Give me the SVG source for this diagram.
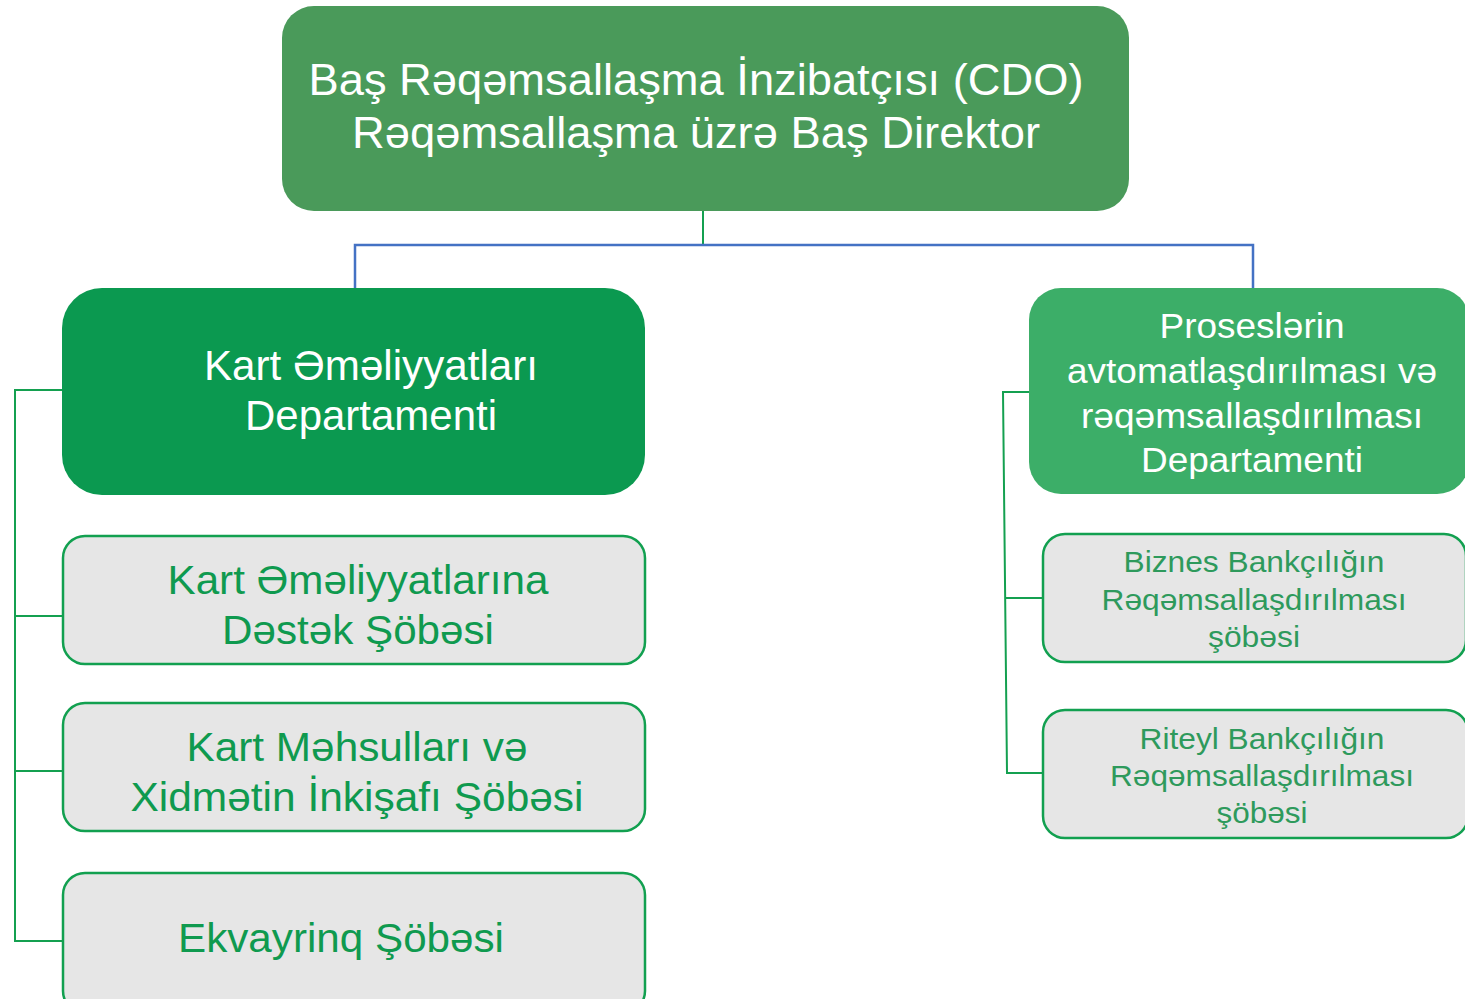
<svg xmlns="http://www.w3.org/2000/svg" width="1465" height="999" viewBox="0 0 1465 999">
<style>
text{font-family:"Liberation Sans",Arial,sans-serif;text-anchor:middle}
.w{fill:#ffffff}
.g{fill:#0f9a4f}
.g2{fill:#2e9a5c}
.sub{fill:#e6e6e6;stroke:#12a050;stroke-width:2.5}
.cg{stroke:#14a050;stroke-width:2;fill:none}
.cb{stroke:#4472c4;stroke-width:2.5;fill:none}
</style>
<rect width="1465" height="999" fill="#ffffff"/>
<g id="connectors">
<line class="cg" x1="703" y1="211" x2="703" y2="245" stroke-width="1.2"/>
<polyline class="cb" points="355,288 355,245 1253,245 1253,288"/>
<polyline class="cg" points="62,390 15,390 15,941 62,941" stroke-width="1.5"/>
<line class="cg" x1="15" y1="616" x2="62" y2="616" stroke-width="1.5"/>
<line class="cg" x1="15" y1="771" x2="62" y2="771" stroke-width="1.5"/>
<polyline class="cg" points="1029,392 1003,392 1007,773 1043,773" stroke-width="2.5"/>
<line class="cg" x1="1005" y1="598" x2="1043" y2="598" stroke-width="2.5"/>
</g>
<g id="cdo">
<rect x="282" y="6" width="847" height="205" rx="32" fill="#4a9a5a"/>
<text class="w" x="696" y="95" font-size="44" textLength="775" lengthAdjust="spacingAndGlyphs">Baş Rəqəmsallaşma İnzibatçısı (CDO)</text>
<text class="w" x="696" y="148" font-size="44" textLength="688" lengthAdjust="spacingAndGlyphs">Rəqəmsallaşma üzrə Baş Direktor</text>
</g>
<g id="kart-dept">
<rect x="62" y="288" width="583" height="207" rx="40" fill="#0b9950"/>
<text class="w" x="371" y="380" font-size="42" textLength="334" lengthAdjust="spacingAndGlyphs">Kart Əməliyyatları</text>
<text class="w" x="371" y="430" font-size="42" textLength="252" lengthAdjust="spacingAndGlyphs">Departamenti</text>
</g>
<g id="destek">
<rect class="sub" x="63" y="536" width="582" height="128" rx="22"/>
<text class="g" x="358" y="594" font-size="40" textLength="381" lengthAdjust="spacingAndGlyphs">Kart Əməliyyatlarına</text>
<text class="g" x="358" y="644" font-size="40" textLength="272" lengthAdjust="spacingAndGlyphs">Dəstək Şöbəsi</text>
</g>
<g id="mehsul">
<rect class="sub" x="63" y="703" width="582" height="128" rx="22"/>
<text class="g" x="357" y="761" font-size="40" textLength="341" lengthAdjust="spacingAndGlyphs">Kart Məhsulları və</text>
<text class="g" x="357" y="811" font-size="40" textLength="453" lengthAdjust="spacingAndGlyphs">Xidmətin İnkişafı Şöbəsi</text>
</g>
<g id="ekvayrinq">
<rect class="sub" x="63" y="873" width="582" height="140" rx="22"/>
<text class="g" x="341" y="952" font-size="40" textLength="326" lengthAdjust="spacingAndGlyphs">Ekvayrinq Şöbəsi</text>
</g>
<g id="proses-dept">
<rect x="1029" y="288" width="440" height="206" rx="32" fill="#3cae68"/>
<text class="w" x="1252" y="338" font-size="35" textLength="185" lengthAdjust="spacingAndGlyphs">Proseslərin</text>
<text class="w" x="1252" y="383" font-size="35" textLength="370" lengthAdjust="spacingAndGlyphs">avtomatlaşdırılması və</text>
<text class="w" x="1252" y="428" font-size="35" textLength="342" lengthAdjust="spacingAndGlyphs">rəqəmsallaşdırılması</text>
<text class="w" x="1252" y="472" font-size="35" textLength="222" lengthAdjust="spacingAndGlyphs">Departamenti</text>
</g>
<g id="biznes">
<rect class="sub" x="1043" y="534" width="423" height="128" rx="22"/>
<text class="g2" x="1254" y="572" font-size="30" textLength="261" lengthAdjust="spacingAndGlyphs">Biznes Bankçılığın</text>
<text class="g2" x="1254" y="610" font-size="30" textLength="305" lengthAdjust="spacingAndGlyphs">Rəqəmsallaşdırılması</text>
<text class="g2" x="1254" y="647" font-size="30" textLength="92" lengthAdjust="spacingAndGlyphs">şöbəsi</text>
</g>
<g id="riteyl">
<rect class="sub" x="1043" y="710" width="425" height="128" rx="22"/>
<text class="g2" x="1262" y="749" font-size="30" textLength="245" lengthAdjust="spacingAndGlyphs">Riteyl Bankçılığın</text>
<text class="g2" x="1262" y="786" font-size="30" textLength="304" lengthAdjust="spacingAndGlyphs">Rəqəmsallaşdırılması</text>
<text class="g2" x="1262" y="823" font-size="30" textLength="91" lengthAdjust="spacingAndGlyphs">şöbəsi</text>
</g>
</svg>
